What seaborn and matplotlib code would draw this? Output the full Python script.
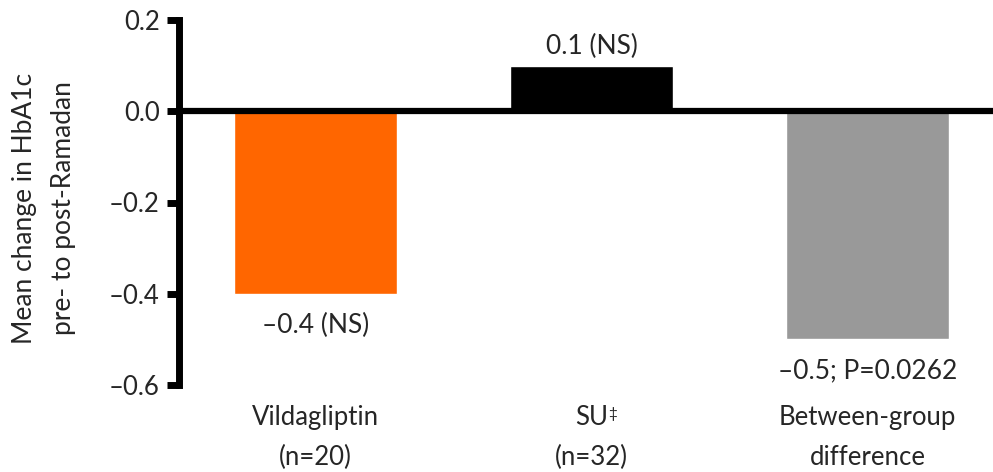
import matplotlib
matplotlib.use("Agg")
import matplotlib.pyplot as plt
import seaborn as sns
import pandas as pd

# Data
categories = ["Vildagliptin\n(n=20)", "SU\n(n=32)", "Between-group\ndifference"]
footnote_marks = ["", "‡", ""]
changes = [-0.4, 0.1, -0.5]
significance = ["(NS)", "(NS)", "; P=0.0262"]
bar_colors = ["#FF6600", "#000000", "#999999"]
ytick_values = [0.2, 0.0, -0.2, -0.4, -0.6]
ytick_labels = ["0.2", "0.0", "–0.2", "–0.4", "–0.6"]

sns.set_style("white")
plt.rcParams["font.family"] = ["Lato", "DejaVu Sans"]

LABEL_SIZE = 18.5
LABEL_PAD = 14.5      # points between axes bottom and first label line
LINE_STEP = 28.8      # points between the two label lines

df = pd.DataFrame({"group": categories, "change": changes})

fig = plt.figure(figsize=(9.93, 4.72), dpi=100)
ax = fig.add_axes([179 / 993, 1 - 385 / 472, 1 - 179 / 993, (385 - 20) / 472])

sns.barplot(data=df, x="group", y="change", hue="group", palette=bar_colors,
            width=0.59, saturation=1, legend=False, ax=ax, zorder=2)

ax.set_xlim(-0.495, 2.455)
ax.set_ylim(-0.6, 0.2)

# Zero reference line across the plot
ax.axhline(0, color="black", lw=4.5, zorder=3)

# Value annotations
for i, (v, s) in enumerate(zip(changes, significance)):
    num = f"{v:.1f}".replace("-", "–")
    txt = f"{num} {s}" if s.startswith("(") else f"{num}{s}"
    if v >= 0:
        ax.annotate(txt, (i, v), xytext=(0, 5), textcoords="offset points",
                    ha="center", va="bottom", fontsize=19)
    else:
        ax.annotate(txt, (i, v), xytext=(0, -13.5), textcoords="offset points",
                    ha="center", va="top", fontsize=19)

# Axes styling
for side in ["top", "right", "bottom"]:
    ax.spines[side].set_visible(False)
ax.spines["left"].set_linewidth(5)
ax.spines["left"].set_color("black")

ax.set_yticks(ytick_values)
ax.set_yticklabels(ytick_labels, fontsize=18.5)
ax.tick_params(axis="y", which="major", left=True, direction="out",
               length=9, width=5, color="black", pad=5)

# Category labels: first line as tick label, second line underneath
first_lines = [c.split("\n")[0] for c in categories]
second_lines = [c.split("\n")[1] for c in categories]
ax.set_xticks(range(len(categories)))
ax.set_xticklabels(first_lines)
ax.tick_params(axis="x", bottom=False, length=0, pad=LABEL_PAD, labelsize=LABEL_SIZE)
for i, line in enumerate(second_lines):
    ax.annotate(line, (i, 0), xycoords=("data", "axes fraction"),
                xytext=(0, -(LABEL_PAD + LINE_STEP)), textcoords="offset points",
                ha="center", va="top", fontsize=LABEL_SIZE, annotation_clip=False)

ax.set_xlabel("")
ax.set_ylabel("Mean change in HbA1c\npre- to post-Ramadan", fontsize=19, linespacing=1.7)
ax.yaxis.label.set_verticalalignment("center")
ax.yaxis.set_label_coords(-0.166, 0.485)

# Superscript footnote marks right after the first label line
fig.canvas.draw()
renderer = fig.canvas.get_renderer()
W, H = fig.bbox.width, fig.bbox.height
for lbl, mark in zip(ax.get_xticklabels(), footnote_marks):
    if not mark:
        continue
    bb = lbl.get_window_extent(renderer)
    fig.text((bb.x1 + 0.5) / W, (bb.y1 - 2) / H, mark,
             fontsize=11, ha="left", va="top")

fig.savefig("out.png", dpi=100)
